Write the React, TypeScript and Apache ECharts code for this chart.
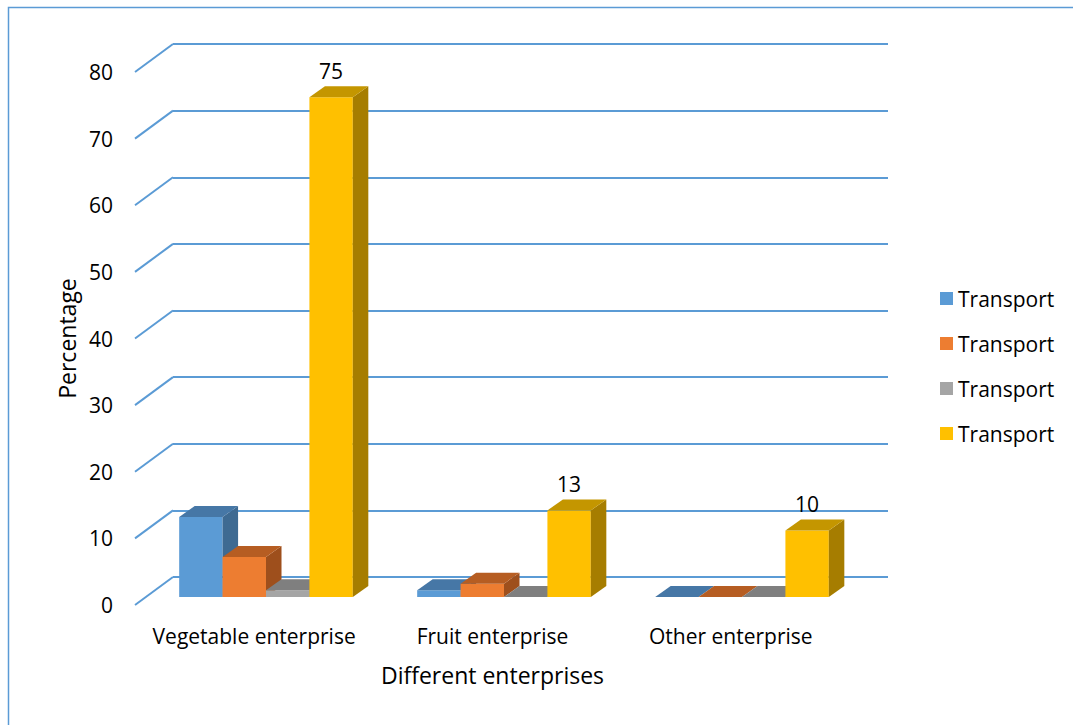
import React, { useEffect, useRef } from "react";
import * as echarts from "echarts";

const categories = ["Vegetable enterprise", "Fruit enterprise", "Other enterprise"];
const seriesNames = ["Transport", "Transport", "Transport", "Transport"];
const series1 = [12, 1, 0];
const series2 = [6, 2, 0];
const series3 = [1, 0, 0];
const series4 = [75, 13, 10];
const yTicks = [0, 10, 20, 30, 40, 50, 60, 70, 80];

const frontColors = ["#5B9BD5", "#ED7D31", "#A5A5A5", "#FFC000"];
const topColors = ["#4677A6", "#B65D22", "#7F7F7F", "#C49600"];
const sideColors = ["#3E6A92", "#9E4F1C", "#6E6E6E", "#A67D00"];

const FONT = "Open Sans";
const BLUE = "#5B9BD5";
const FS = 21;
const FS_TITLE = 23;

export default function App() {
  const ref = useRef<HTMLDivElement>(null);
  useEffect(() => {
    if (!ref.current) return;
    const chart = echarts.init(ref.current, undefined, { renderer: "svg" });
    const allSeries = [series1, series2, series3, series4];

    const makeBar = (si: number, showLabel: boolean) => (params: any, api: any) => {
      const cat = api.value(0);
      const v = api.value(1);
      const base = api.coord([cat, 0]);
      const top = api.coord([cat, v]);
      const band = api.size([1, 0])[0];
      const bw = band * 0.1824;
      const x0 = base[0] - 2 * bw + si * bw;
      const x1 = x0 + bw;
      const yb = base[1];
      const yt = top[1];
      const dx = 15.5;
      const dy = -11;
      const children: any[] = [
        {
          type: "polygon",
          shape: { points: [[x0, yt], [x1, yt], [x1, yb], [x0, yb]] },
          style: { fill: frontColors[si] },
        },
        {
          type: "polygon",
          shape: { points: [[x1, yt], [x1 + dx, yt + dy], [x1 + dx, yb + dy], [x1, yb]] },
          style: { fill: sideColors[si] },
        },
        {
          type: "polygon",
          shape: { points: [[x0, yt], [x0 + dx, yt + dy], [x1 + dx, yt + dy], [x1, yt]] },
          style: { fill: topColors[si] },
        },
      ];
      if (showLabel) {
        children.push({
          type: "text",
          style: {
            text: String(v),
            x: (x0 + x1) / 2,
            y: yt - 26,
            align: "center",
            verticalAlign: "middle",
            fontSize: FS,
            fontFamily: FONT,
            fill: "#000",
          },
        });
      }
      return { type: "group", children };
    };

    const option: any = {
      animation: false,
      backgroundColor: "#fff",
      graphic: [
        {
          type: "polyline",
          shape: { points: [[8.5, 725], [8.5, 7.5], [1073, 7.5]] },
          style: { stroke: BLUE, lineWidth: 1.5, fill: "none" },
          silent: true,
        },
      ],
      legend: {
        orient: "vertical",
        left: 940,
        top: 288,
        padding: 0,
        itemWidth: 13,
        itemHeight: 13,
        itemGap: 24,
        icon: "rect",
        data: seriesNames.map((n, i) => n + "#" + i),
        formatter: (name: string) => name.split("#")[0],
        textStyle: { fontSize: FS, fontFamily: FONT, color: "#000", lineHeight: 21 },
      },
      grid: [
        { left: 173, right: 185, top: 44, bottom: 148 },
        { left: 135, right: 223, top: 72, bottom: 120 },
        { left: 147, right: 212, top: 64, bottom: 128 },
      ],
      xAxis: [
        { type: "category", gridIndex: 0, data: categories, show: false },
        {
          type: "category",
          gridIndex: 1,
          data: categories,
          axisLine: { show: false },
          axisTick: { show: false },
          axisLabel: { interval: 0, margin: 20, fontSize: FS, fontFamily: FONT, color: "#000" },
          name: "Different enterprises",
          nameLocation: "middle",
          nameGap: 58,
          nameTextStyle: { fontSize: FS_TITLE, fontFamily: FONT, color: "#000" },
        },
        { type: "category", gridIndex: 2, data: categories, show: false },
      ],
      yAxis: [
        {
          type: "value",
          gridIndex: 0,
          min: 0,
          max: 80,
          interval: 10,
          axisLine: { show: false },
          axisTick: { show: false },
          axisLabel: { show: false },
          splitLine: { show: true, lineStyle: { color: BLUE, width: 2 } },
        },
        {
          type: "value",
          gridIndex: 1,
          min: 0,
          max: 80,
          interval: 10,
          axisLine: { show: false },
          axisTick: { show: false },
          splitLine: { show: false },
          axisLabel: { margin: 22, fontSize: FS, fontFamily: FONT, color: "#000" },
          name: "Percentage",
          nameLocation: "middle",
          nameGap: 57,
          nameTextStyle: { fontSize: FS_TITLE, fontFamily: FONT, color: "#000" },
        },
        {
          type: "value",
          gridIndex: 2,
          min: 0,
          max: 80,
          interval: 10,
          show: false,
          splitLine: { show: false },
        },
      ],
      series: [
        {
          type: "custom",
          name: "grid-diagonals",
          xAxisIndex: 1,
          yAxisIndex: 1,
          silent: true,
          data: yTicks.map((t) => [0, t]),
          renderItem: (params: any, api: any) => {
            const p = api.coord([0, api.value(1)]);
            const x = params.coordSys.x;
            return {
              type: "line",
              shape: { x1: x, y1: p[1], x2: x + 38, y2: p[1] - 28 },
              style: { stroke: BLUE, lineWidth: 2 },
            };
          },
        },
        ...allSeries.map((vals, si) => ({
          type: "custom",
          name: seriesNames[si] + "#" + si,
          xAxisIndex: 2,
          yAxisIndex: 2,
          itemStyle: { color: frontColors[si] },
          data: vals.map((v, ci) => [ci, v]),
          renderItem: makeBar(si, si === 3),
        })),
      ],
    };
    chart.setOption(option);
    return () => chart.dispose();
  }, []);
  return (
    <div
      ref={ref}
      style={{ position: "fixed", left: 0, top: 0, width: 1073, height: 725 }}
    />
  );
}
